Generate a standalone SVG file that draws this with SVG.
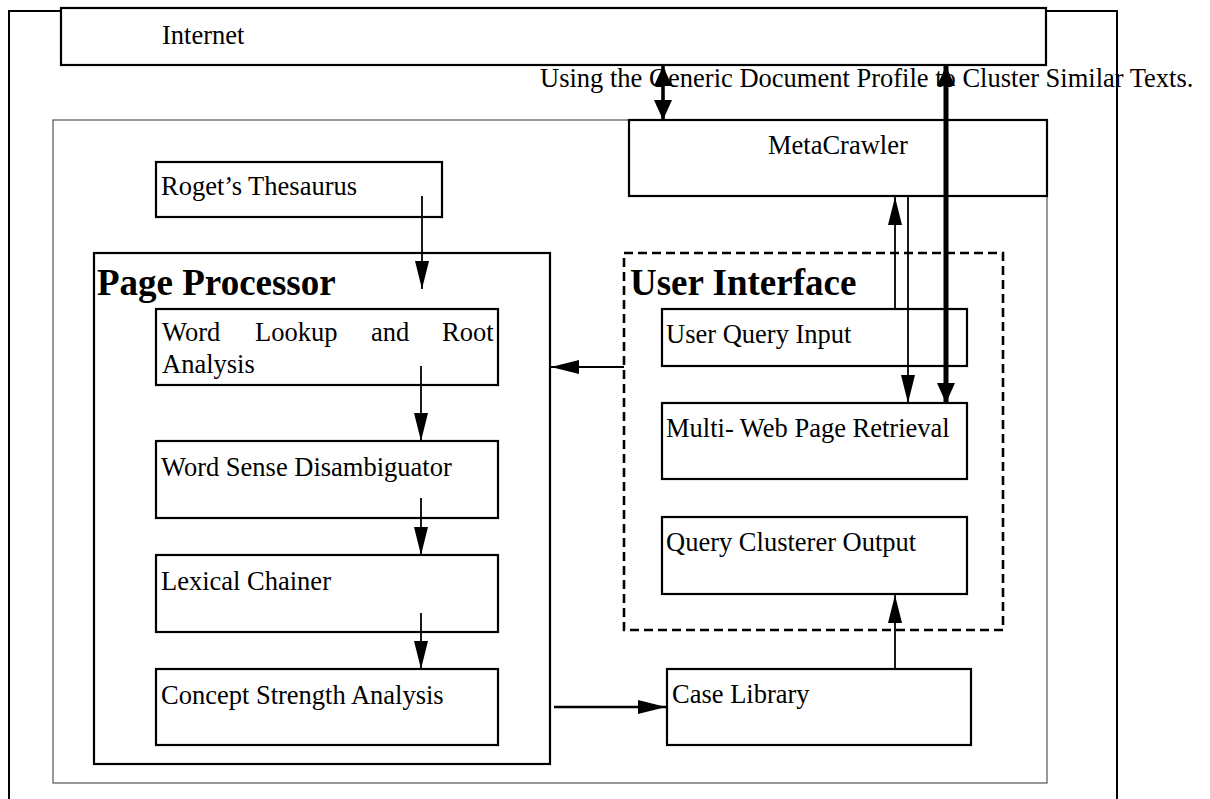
<svg xmlns="http://www.w3.org/2000/svg" width="1210" height="799" viewBox="0 0 1210 799">
  <style>
    .box { fill: #fff; stroke: #000; stroke-width: 2.2; }
    .frame { fill: none; stroke: #000; stroke-width: 2; }
    .inner { fill: none; stroke: #555; stroke-width: 1.2; }
    .dash { fill: none; stroke: #000; stroke-width: 2.6; stroke-dasharray: 9 5; }
    .t { font-family: "Liberation Serif", "Times New Roman", serif; font-size: 26.5px; fill: #000; }
    .title { font-family: "Liberation Serif", "Times New Roman", serif; font-size: 37px; font-weight: bold; fill: #000; }
    .thin { stroke: #000; stroke-width: 1.8; fill: none; }
    .med { stroke: #000; stroke-width: 2.6; fill: none; }
    .thick { stroke: #000; stroke-width: 3.6; fill: none; }
    .heavy { stroke: #000; stroke-width: 5; fill: none; }
  </style>
  <defs>
    <marker id="arr" viewBox="0 0 28 14" markerWidth="28" markerHeight="14" refX="28" refY="7" markerUnits="userSpaceOnUse" orient="auto-start-reverse">
      <path d="M0,0 L28,7 L0,14 Z" fill="#000"/>
    </marker>
    <marker id="arrB" viewBox="0 0 20 18" markerWidth="20" markerHeight="18" refX="20" refY="9" markerUnits="userSpaceOnUse" orient="auto-start-reverse">
      <path d="M0,0 L20,9 L0,18 Z" fill="#000"/>
    </marker>
  </defs>

  <rect width="1210" height="799" fill="#fff"/>

  <!-- outer page frame -->
  <rect class="frame" x="9" y="11" width="1108" height="800"/>

  <!-- system boundary -->
  <rect class="inner" x="53" y="120" width="994" height="663"/>

  <g id="internet">
    <rect class="box" x="61" y="8" width="985" height="57"/>
    <text class="t" x="162" y="44">Internet</text>
  </g>

  <text id="caption" class="t" x="540" y="87">Using the Generic Document Profile to Cluster Similar Texts.</text>

  <g id="metacrawler">
    <rect class="box" x="629" y="120" width="418" height="76"/>
    <text class="t" x="768" y="154">MetaCrawler</text>
  </g>

  <g id="roget">
    <rect class="box" x="156" y="162" width="286" height="55"/>
    <text class="t" x="161" y="195">Roget’s Thesaurus</text>
  </g>

  <g id="page-processor">
    <rect class="box" x="94" y="253" width="456" height="511"/>
    <text class="title" x="97" y="295">Page Processor</text>
  </g>

  <g id="word-lookup">
    <rect class="box" x="156" y="309" width="342" height="76"/>
    <text class="t" y="341"><tspan x="162">Word</tspan><tspan x="255">Lookup</tspan><tspan x="371">and</tspan><tspan x="442">Root</tspan></text>
    <text class="t" x="162" y="373">Analysis</text>
  </g>

  <g id="word-sense">
    <rect class="box" x="156" y="441" width="342" height="77"/>
    <text class="t" x="161" y="476">Word Sense Disambiguator</text>
  </g>

  <g id="lexical-chainer">
    <rect class="box" x="156" y="555" width="342" height="77"/>
    <text class="t" x="161" y="590">Lexical Chainer</text>
  </g>

  <g id="concept-strength">
    <rect class="box" x="156" y="669" width="342" height="76"/>
    <text class="t" x="161" y="704">Concept Strength Analysis</text>
  </g>

  <g id="user-interface">
    <rect class="dash" x="624" y="253" width="379" height="377"/>
    <text class="title" x="630" y="295">User Interface</text>
  </g>

  <g id="user-query">
    <rect class="box" x="662" y="309" width="305" height="57"/>
    <text class="t" x="666" y="343">User Query Input</text>
  </g>

  <g id="multi-web">
    <rect class="box" x="662" y="403" width="305" height="76"/>
    <text class="t" x="666" y="437">Multi- Web Page Retrieval</text>
  </g>

  <g id="query-clusterer">
    <rect class="box" x="662" y="517" width="305" height="77"/>
    <text class="t" x="666" y="551">Query Clusterer Output</text>
  </g>

  <g id="case-library">
    <rect class="box" x="667" y="669" width="304" height="76"/>
    <text class="t" x="672" y="703">Case Library</text>
  </g>

  <g id="connectors">
    <line class="thin" x1="422" y1="196" x2="422" y2="289" marker-end="url(#arr)"/>
    <line class="thin" x1="421" y1="366" x2="421" y2="441" marker-end="url(#arr)"/>
    <line class="thin" x1="421" y1="498" x2="421" y2="555" marker-end="url(#arr)"/>
    <line class="thin" x1="421" y1="613" x2="421" y2="669" marker-end="url(#arr)"/>
    <line class="med" x1="554" y1="707" x2="666" y2="707" marker-end="url(#arr)"/>
    <line class="thin" x1="895" y1="669" x2="895" y2="595" marker-end="url(#arr)"/>
    <line class="thin" x1="624" y1="367" x2="551" y2="367" marker-end="url(#arr)"/>
    <line class="thin" x1="895" y1="309" x2="895" y2="197" marker-end="url(#arr)"/>
    <line class="thin" x1="908" y1="196" x2="908" y2="403" marker-end="url(#arr)"/>
    <line class="thick" x1="663" y1="66" x2="663" y2="120" marker-start="url(#arrB)" marker-end="url(#arrB)"/>
    <line class="heavy" x1="946" y1="66" x2="946" y2="403" marker-start="url(#arrB)" marker-end="url(#arrB)"/>
  </g>
</svg>
